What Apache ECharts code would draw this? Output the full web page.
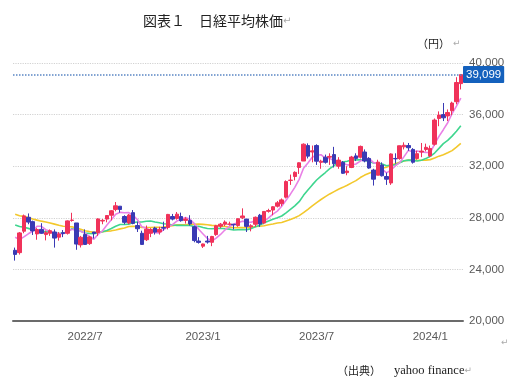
<!DOCTYPE html>
<html><head><meta charset="utf-8">
<script src="https://cdn.jsdelivr.net/npm/echarts@6/dist/echarts.min.js"></script>
<style>html,body{margin:0;padding:0;background:#fff}#c{width:510px;height:391px}</style>
</head><body><div id="c"></div>
<script>
const weeks = [
'2022-03-07','2022-03-14','2022-03-21','2022-03-28','2022-04-04','2022-04-11','2022-04-18','2022-04-25','2022-05-02','2022-05-09',
'2022-05-16','2022-05-23','2022-05-30','2022-06-06','2022-06-13','2022-06-20','2022-06-27','2022-07-04','2022-07-11','2022-07-18',
'2022-07-25','2022-08-01','2022-08-08','2022-08-15','2022-08-22','2022-08-29','2022-09-05','2022-09-12','2022-09-19','2022-09-26',
'2022-10-03','2022-10-10','2022-10-17','2022-10-24','2022-10-31','2022-11-07','2022-11-14','2022-11-21','2022-11-28','2022-12-05',
'2022-12-12','2022-12-19','2022-12-26','2023-01-02','2023-01-09','2023-01-16','2023-01-23','2023-01-30','2023-02-06','2023-02-13',
'2023-02-20','2023-02-27','2023-03-06','2023-03-13','2023-03-20','2023-03-27','2023-04-03','2023-04-10','2023-04-17','2023-04-24',
'2023-05-01','2023-05-08','2023-05-15','2023-05-22','2023-05-29','2023-06-05','2023-06-12','2023-06-19','2023-06-26','2023-07-03',
'2023-07-10','2023-07-17','2023-07-24','2023-07-31','2023-08-07','2023-08-14','2023-08-21','2023-08-28','2023-09-04','2023-09-11',
'2023-09-18','2023-09-25','2023-10-02','2023-10-09','2023-10-16','2023-10-23','2023-10-30','2023-11-06','2023-11-13','2023-11-20',
'2023-11-27','2023-12-04','2023-12-11','2023-12-18','2023-12-25','2024-01-01','2024-01-08','2024-01-15','2024-01-22','2024-01-29',
'2024-02-05','2024-02-12','2024-02-19'];

const opens = [25480,25300,26960,28040,27700,26750,27100,26700,26800,26900,
26500,26850,26800,27800,27600,25900,26700,26000,26900,26850,
27750,27900,28200,28650,28900,28100,27600,28400,27400,26800,
26300,26800,27200,26900,27250,27250,28100,27950,28100,27800,
27800,27300,26200,25800,26200,26100,26700,27350,27500,27500,
27500,27400,28000,27900,27300,27500,28200,27600,28500,28600,
28900,29100,29600,30900,31200,31900,32400,33600,33100,33600,
32300,32700,32700,32900,32000,32300,31500,31900,32800,32700,
33100,32600,31700,31300,32100,31200,30700,32600,32600,33500,
33600,33300,32600,33100,33300,32800,33700,35700,36000,35900,
36300,37000,38400];
const closes = [25162,26827,28149,27666,26985,27093,26799,26847,27003,26427,
26739,26781,27761,27824,25963,26491,25935,26517,26788,27915,
27801,28175,28546,28930,28641,27650,28214,27567,27153,25937,
27116,27090,26890,27105,27199,28263,27899,28283,27777,27901,
27527,26235,26094,25973,26119,26553,27382,27509,27670,27513,
27453,27927,28143,27333,27385,28041,27518,28493,28564,28856,
29157,29388,30808,30916,31524,32265,33706,32781,33189,32388,
32391,32304,32759,32192,32473,31450,31624,32710,32606,33533,
32402,31857,30994,32315,31259,30991,32949,32568,33585,33625,
33431,32307,32970,33169,33464,33377,35577,35963,35751,36158,
36897,38487,39099];
const lows = [24681,25150,26800,27500,26670,26300,26750,26250,26600,25690,
26230,26500,26700,27700,25520,25700,25900,25900,26400,26600,
27500,27650,27800,28500,28400,27500,27500,27500,26900,25900,
26200,26500,26700,26700,27000,27100,27800,27850,27700,27550,
27400,26100,26000,25661,26000,25800,26600,27200,27350,27400,
27100,27300,27900,26900,26950,27300,27300,27500,28400,28200,
28800,28900,29500,30550,30900,31400,32400,32600,32300,32100,
31800,32200,32100,31900,31800,31400,31300,31850,32400,32600,
32300,31800,30500,31300,31200,30550,30550,32200,32500,33300,
33200,32200,32500,32700,33150,32700,33600,35100,35500,35500,
35950,36800,37950];
const highs = [25690,26900,28252,28338,27780,27200,27580,27000,27100,27100,
26900,27050,27800,28390,27600,26600,27100,26600,26900,27950,
27900,28200,28600,29222,28900,28200,28300,28600,27700,27000,
27400,27200,27300,27300,27700,28300,28300,28450,28400,28050,
28200,27400,26500,26000,26600,26600,27450,27600,27800,27700,
27500,27950,28734,27900,27500,28100,28300,28500,28700,28900,
29300,29500,30900,31350,31600,32300,33770,33770,33600,33700,
32500,32900,33000,33500,32700,32400,32000,32800,33000,33600,
33300,32700,31800,32500,32300,31500,33000,33000,33600,33850,
33800,33400,33200,33800,33750,33600,35700,36250,36900,36400,
37000,38900,39150];

const ma5 = [26490,26310,26520,26760,26960,27340,27340,27080,26950,26830,
26760,26760,26940,27110,27010,26960,26800,26550,26340,26730,
26990,27440,27850,28270,28420,28390,28400,28200,27850,27300,
27200,26970,26840,26830,27080,27310,27470,27750,27880,28030,
27880,27550,27110,26750,26390,26200,26420,26710,27050,27330,
27510,27610,27740,27670,27650,27770,27680,27750,28000,28290,
28520,28890,29360,29830,30360,30980,31840,32240,32690,32870,
32890,32610,32610,32410,32420,32240,32100,32090,32170,32390,
32580,32620,32280,32220,31770,31480,31700,32020,32270,32740,
33230,33100,33180,33100,33070,33060,33710,34310,34830,35370,
36070,36650,37280];
const ma13 = [27450,27320,27270,27180,27070,26990,26930,26940,26910,26810,
26780,26810,26940,27150,27080,26950,26820,26780,26760,26850,
26920,27010,27170,27340,27480,27480,27510,27630,27680,27680,
27730,27750,27670,27620,27540,27520,27440,27410,27420,27400,
27400,27330,27340,27250,27170,27150,27170,27190,27150,27120,
27050,27070,27080,27070,27160,27310,27430,27610,27760,27880,
28000,28140,28390,28660,28930,29250,29740,30160,30550,30930,
31230,31510,31810,32050,32280,32330,32390,32480,32510,32490,
32460,32360,32250,32250,32170,32030,32090,32100,32260,32420,
32470,32450,32400,32460,32590,32770,33020,33380,33750,34000,
34330,34710,35130];
const ma26 = [28270,28160,28110,28020,27910,27820,27740,27670,27600,27510,
27420,27350,27320,27300,27200,27110,27000,26930,26870,26890,
26930,26960,26990,27060,27140,27210,27330,27350,27320,27250,
27250,27250,27260,27270,27280,27350,27390,27450,27450,27450,
27510,27500,27510,27490,27460,27410,27390,27370,27330,27280,
27230,27240,27240,27230,27240,27320,27340,27390,27460,27520,
27600,27640,27750,27860,28000,28170,28400,28660,28930,29180,
29420,29640,29850,30030,30210,30360,30520,30710,30880,31120,
31310,31460,31590,31740,31840,31920,32070,32190,32300,32400,
32470,32480,32450,32460,32470,32510,32630,32780,32890,33040,
33210,33480,33770];

const tickWeeks = ['2022-06-27','2023-01-02','2023-07-03','2024-01-01'];
const tickLabels = ['2022/7','2023/1','2023/7','2024/1'];
const lastPrice = 39099;

const candles = opens.map((o, i) => [o, closes[i], lows[i], highs[i]]);

const chart = echarts.init(document.getElementById('c'), null, {renderer: 'canvas'});
const axisFont = {color: '#595959', fontSize: 11.5, fontFamily: "'Liberation Sans Narrow', 'Liberation Sans'"};
chart.setOption({
  animation: false,
  backgroundColor: '#fff',
  grid: {left: 13, right: 47, top: 63, bottom: 70},
  xAxis: {
    type: 'category', data: weeks, boundaryGap: true,
    axisLine: {lineStyle: {color: '#6b6b6b', width: 2}},
    axisTick: {show: false},
    splitLine: {show: false},
    axisLabel: Object.assign({
      margin: 10,
      interval: (idx, v) => tickWeeks.indexOf(v) >= 0,
      formatter: v => { const k = tickWeeks.indexOf(v); return k >= 0 ? tickLabels[k] : ''; }
    }, axisFont)
  },
  yAxis: {
    type: 'value', position: 'right', min: 20000, max: 40000, interval: 4000,
    axisLine: {show: false}, axisTick: {show: false},
    splitLine: {lineStyle: {color: '#d2d2d2', type: 'dotted', width: 1.2}},
    axisLabel: Object.assign({
      margin: 6,
      formatter: v => v.toLocaleString('en-US')
    }, axisFont)
  },
  series: [
    {type: 'line', data: ma26, symbol: 'none', lineStyle: {color: '#f3c82c', width: 1.6}, z: 2},
    {type: 'line', data: ma13, symbol: 'none', lineStyle: {color: '#3fd68f', width: 1.6}, z: 2},
    {type: 'line', data: ma5, symbol: 'none', lineStyle: {color: '#e980e6', width: 1.6}, z: 2},
    {
      type: 'candlestick', data: candles, barWidth: 4, z: 3,
      itemStyle: {color: '#f0325a', color0: '#3a3ab4', borderColor: '#f0325a', borderColor0: '#3a3ab4', borderWidth: 1},
      markLine: {
        silent: true, symbol: 'none', animation: false,
        lineStyle: {color: '#5a86c4', type: 'dotted', width: 1.5},
        label: {
          position: 'end', distance: 0,
          formatter: () => lastPrice.toLocaleString('en-US'),
          color: '#fff', backgroundColor: '#1461bd', padding: [3, 3, 2, 3],
          fontSize: 11.5, fontFamily: "'Liberation Sans Narrow', 'Liberation Sans'", borderRadius: 1
        },
        data: [{yAxis: lastPrice}]
      }
    }
  ],
  graphic: [
    {type: 'text', left: 143, top: 14, style: {
      text: '{t|図表１　日経平均株価}{r|↵}',
      rich: {t: {fontSize: 14, fontFamily: 'Noto Sans CJK JP', fill: '#222'}, r: {fontSize: 10, fill: '#aaa', fontFamily: 'DejaVu Sans'}}
    }},
    {type: 'text', left: 417, top: 38, style: {
      text: '{t|（円）}{r|↵}',
      rich: {t: {fontSize: 11, fontFamily: 'Noto Sans CJK JP', fill: '#222'}, r: {fontSize: 9, fill: '#aaa', fontFamily: 'DejaVu Sans', padding: [0,0,0,3]}}
    }},
    {type: 'text', left: 337, top: 364, style: {
      text: '{t|（出典）}{s|　yahoo finance}{r|↵}',
      rich: {t: {fontSize: 11, fontFamily: 'Noto Sans CJK JP', fill: '#222'},
             s: {fontSize: 12.5, fontFamily: 'Liberation Serif', fill: '#222'},
             r: {fontSize: 9, fill: '#aaa', fontFamily: 'DejaVu Sans'}}
    }},
    {type: 'text', left: 501, top: 338, style: {text: '↵', fontSize: 9, fill: '#aaa', fontFamily: 'DejaVu Sans'}}
  ]
});
</script>
</body></html>
